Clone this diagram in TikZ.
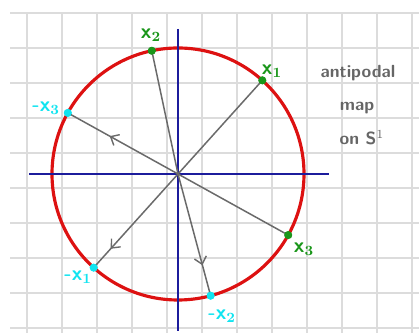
\documentclass[tikz,border=0pt]{standalone}
\usetikzlibrary{arrows.meta,decorations.markings}
\definecolor{gridc}{HTML}{DCDCDC}
\definecolor{circc}{HTML}{DD1111}
\definecolor{axisc}{HTML}{1C1C9C}
\definecolor{rayc}{HTML}{6A6A6A}
\definecolor{ptg}{HTML}{1A961A}
\definecolor{ptc}{HTML}{10E4F0}
\definecolor{txtc}{HTML}{666666}
\tikzset{
  gridline/.style={draw=gridc, line width=0.6pt},
  axisline/.style={draw=axisc, line width=1.7pt},
  circline/.style={draw=circc, line width=1.8pt},
  ray/.style={draw=rayc, line width=0.85pt},
  midarrow/.style={postaction={decorate}, decoration={markings,
     mark=at position #1 with {\arrow{Straight Barb[length=4pt,width=7pt,line width=0.8pt]}}}},
  gdot/.style={circle, fill=ptg, inner sep=0pt, minimum size=4.5pt},
  cdot/.style={circle, fill=ptc, inner sep=0pt, minimum size=4.5pt},
  glab/.style={text=ptg, font=\sffamily\bfseries\large},
  clab/.style={text=ptc, font=\sffamily\bfseries\large},
  note/.style={text=txtc, font=\sffamily\bfseries, align=center}
}
\begin{document}
\begin{tikzpicture}[x=0.02cm, y=-0.02cm]
\useasboundingbox (0,0) rectangle (419,333);
\fill[white] (0,0) rectangle (419,333);
% grid
\foreach \gx in {27,62,...,419} \draw[gridline] (\gx,13) -- (\gx,333);
\foreach \gy in {13,48,...,333} \draw[gridline] (10,\gy) -- (419,\gy);
% circle and axes
\coordinate (O) at (178,174);
\draw[circline] (O) circle (126);
\coordinate (axL) at (29,174);
\coordinate (axR) at (329,174);
\coordinate (axT) at (178,29);
\coordinate (axB) at (178,331);
\draw[axisline] (axL) -- (axR);
\draw[axisline] (axT) -- (axB);
% points (y axis points down, so angles are negated)
\path (O) ++(-48:126) node[gdot] (x1) {};
\path (O) ++(-102:126) node[gdot] (x2) {};
\path (O) ++(29:126) node[gdot] (x3) {};
\path (O) ++(132:126) node[cdot] (mx1) {};
\path (O) ++(75:126) node[cdot] (mx2) {};
\path (O) ++(209:126) node[cdot] (mx3) {};
% rays
\draw[ray] (x1.center) -- (O);
\draw[ray, midarrow=0.8] (O) -- (mx1.center);
\draw[ray] (x2.center) -- (O);
\draw[ray, midarrow=0.75] (O) -- (mx2.center);
\draw[ray] (x3.center) -- (O);
\draw[ray, midarrow=0.62] (O) -- (mx3.center);
% redraw dots on top
\path (O) ++(-48:126) node[gdot] {};
\path (O) ++(-102:126) node[gdot] {};
\path (O) ++(29:126) node[gdot] {};
\path (O) ++(132:126) node[cdot] {};
\path (O) ++(75:126) node[cdot] {};
\path (O) ++(209:126) node[cdot] {};
% labels
\node[glab] (lx1) at (272,71) {x$_{\mathbf 1}$};
\node[glab] (lx2) at (151,35) {x$_{\mathbf 2}$};
\node[glab] (lx3) at (304,249) {x$_{\mathbf 3}$};
\node[clab] (lmx1) at (78,277) {-x$_{\mathbf 1}$};
\node[clab] (lmx2) at (222,316) {-x$_{\mathbf 2}$};
\node[clab] (lmx3) at (46,108) {-x$_{\mathbf 3}$};
% note
\node[note] (n1) at (358,73) {antipodal};
\node[note] (n2) at (357,108) {map};
\node[note] (n3) at (362,138) {on S$^{1}$};
\end{tikzpicture}
\end{document}
